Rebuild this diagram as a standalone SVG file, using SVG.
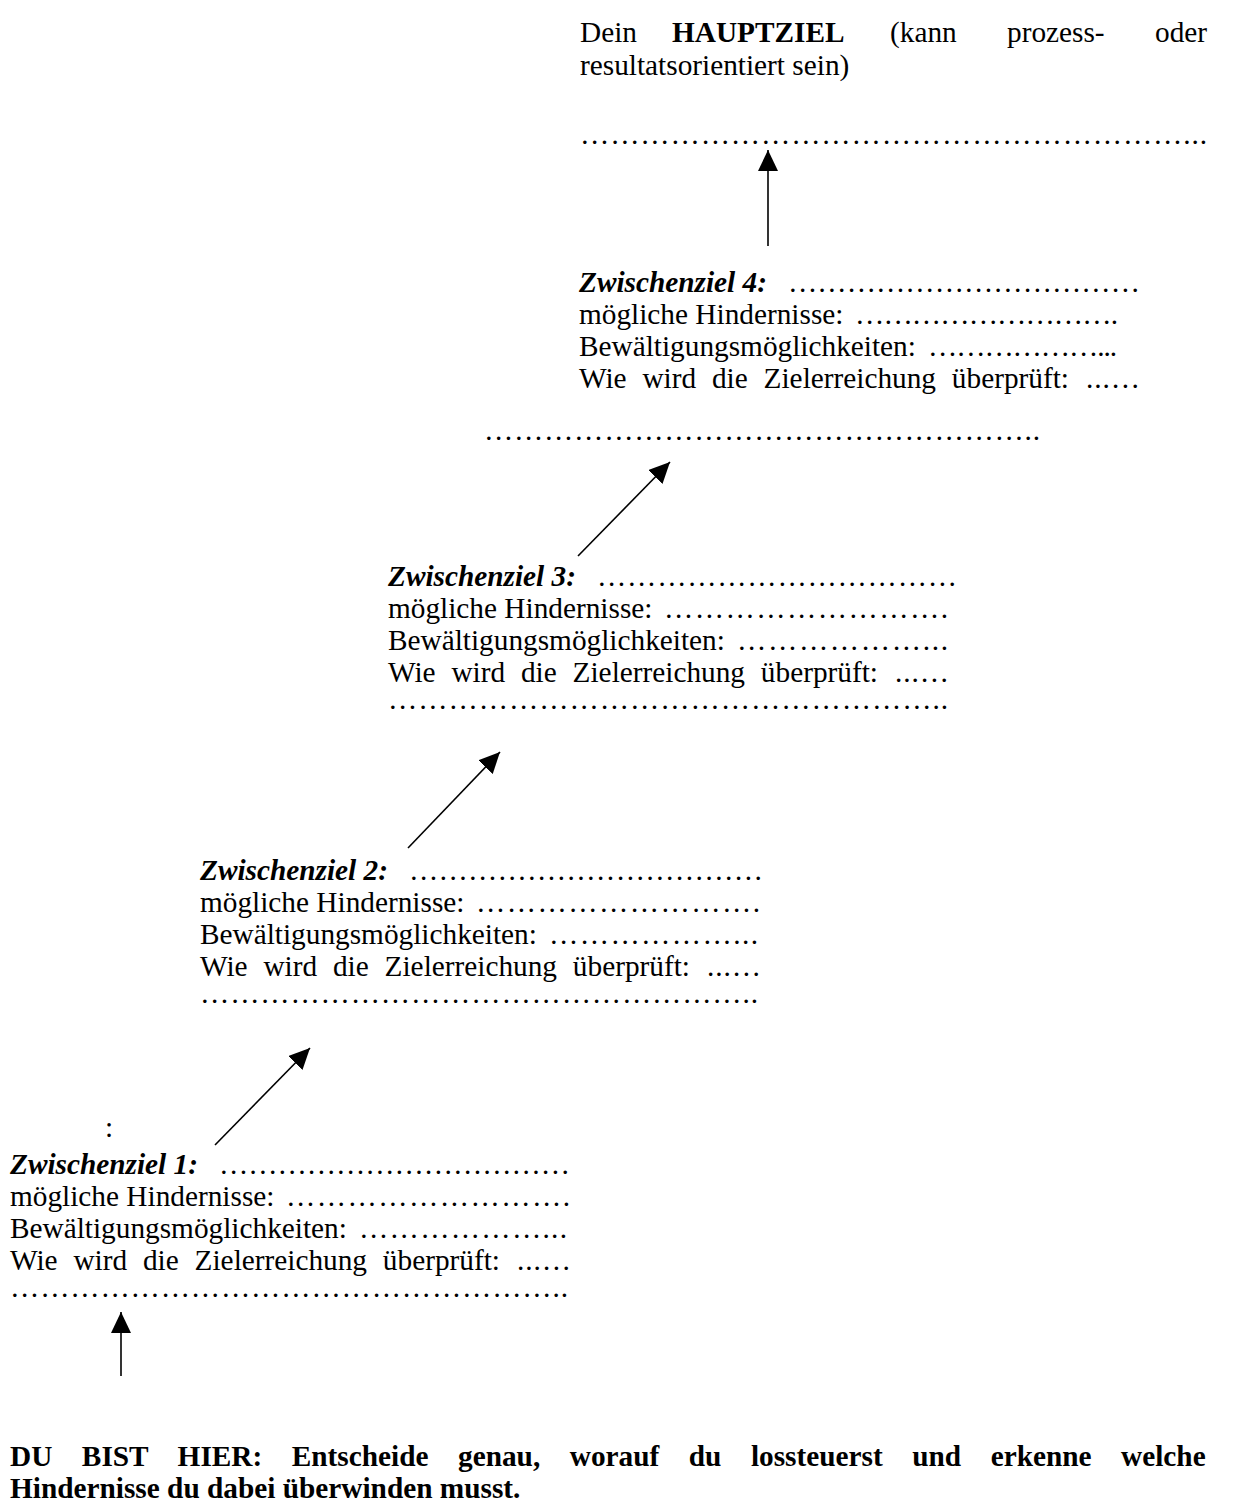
<svg xmlns="http://www.w3.org/2000/svg" width="1233" height="1510" viewBox="0 0 1233 1510">
<style>
text{font-family:"Liberation Serif","Times New Roman",serif;font-size:29.3px;fill:#000}
.b{font-weight:bold}
.bi{font-weight:bold;font-style:italic}
.w{word-spacing:8.5px}
.ar{stroke:#000;stroke-width:1.6;fill:none;marker-end:url(#ah)}
</style>
<defs>
<marker id="ah" viewBox="0 0 21 20" refX="21" refY="10" markerWidth="21" markerHeight="20" markerUnits="userSpaceOnUse" orient="auto">
<path d="M0,0 L21,10 L0,20 Z" fill="#000"/>
</marker>
</defs>
<rect width="1233" height="1510" fill="#fff"/>

<g id="hauptziel">
<text y="42"><tspan x="580">Dein</tspan><tspan x="672" class="b">HAUPTZIEL</tspan><tspan x="890">(kann</tspan><tspan x="1007">prozess-</tspan><tspan x="1155">oder</tspan></text>
<text x="580" y="75">resultatsorientiert sein)</text>
<text x="580" y="144" textLength="627" lengthAdjust="spacing"><tspan>………</tspan><tspan>………</tspan><tspan>………</tspan><tspan>………</tspan><tspan>………</tspan><tspan>………</tspan><tspan>……</tspan><tspan>...</tspan></text>
</g>

<g id="zwischenziel4">
<text x="579" y="292" class="bi">Zwischenziel 4:</text>
<text x="788" y="292" textLength="352" lengthAdjust="spacing"><tspan>………</tspan><tspan>………</tspan><tspan>………</tspan><tspan>………</tspan></text>
<text x="579" y="324">mögliche Hindernisse:</text>
<text x="855" y="324" textLength="263" lengthAdjust="spacing"><tspan>………</tspan><tspan>………</tspan><tspan>………</tspan><tspan>.</tspan></text>
<text x="579" y="356">Bewältigungsmöglichkeiten:</text>
<text x="928" y="356" textLength="189" lengthAdjust="spacing"><tspan>………</tspan><tspan>………</tspan><tspan>...</tspan></text>
<text x="579" y="388" class="w">Wie wird die Zielerreichung überprüft:</text>
<text x="1086" y="388" textLength="54" lengthAdjust="spacing">...…</text>
<text x="484" y="440" textLength="556" lengthAdjust="spacing"><tspan>………</tspan><tspan>………</tspan><tspan>………</tspan><tspan>………</tspan><tspan>………</tspan><tspan>………</tspan><tspan>..</tspan></text>
</g>

<g id="zwischenziel3">
<text x="388" y="586" class="bi">Zwischenziel 3:</text>
<text x="597" y="586" textLength="360" lengthAdjust="spacing"><tspan>………</tspan><tspan>………</tspan><tspan>………</tspan><tspan>………</tspan></text>
<text x="388" y="618">mögliche Hindernisse:</text>
<text x="664" y="618" textLength="284" lengthAdjust="spacing"><tspan>………</tspan><tspan>………</tspan><tspan>………</tspan><tspan>.</tspan></text>
<text x="388" y="650">Bewältigungsmöglichkeiten:</text>
<text x="737" y="650" textLength="211" lengthAdjust="spacing"><tspan>………</tspan><tspan>………</tspan><tspan>...</tspan></text>
<text x="388" y="682" class="w">Wie wird die Zielerreichung überprüft:</text>
<text x="895" y="682" textLength="54" lengthAdjust="spacing">...…</text>
<text x="388" y="709" textLength="560" lengthAdjust="spacing"><tspan>………</tspan><tspan>………</tspan><tspan>………</tspan><tspan>………</tspan><tspan>………</tspan><tspan>………</tspan><tspan>..</tspan></text>
</g>

<g id="zwischenziel2">
<text x="200" y="880" class="bi">Zwischenziel 2:</text>
<text x="409" y="880" textLength="354" lengthAdjust="spacing"><tspan>………</tspan><tspan>………</tspan><tspan>………</tspan><tspan>………</tspan></text>
<text x="200" y="912">mögliche Hindernisse:</text>
<text x="476" y="912" textLength="284" lengthAdjust="spacing"><tspan>………</tspan><tspan>………</tspan><tspan>………</tspan><tspan>.</tspan></text>
<text x="200" y="944">Bewältigungsmöglichkeiten:</text>
<text x="549" y="944" textLength="209" lengthAdjust="spacing"><tspan>………</tspan><tspan>………</tspan><tspan>...</tspan></text>
<text x="200" y="976" class="w">Wie wird die Zielerreichung überprüft:</text>
<text x="707" y="976" textLength="54" lengthAdjust="spacing">...…</text>
<text x="200" y="1003" textLength="558" lengthAdjust="spacing"><tspan>………</tspan><tspan>………</tspan><tspan>………</tspan><tspan>………</tspan><tspan>………</tspan><tspan>………</tspan><tspan>..</tspan></text>
</g>

<g id="zwischenziel1">
<text x="105" y="1137">:</text>
<text x="10" y="1174" class="bi">Zwischenziel 1:</text>
<text x="219" y="1174" textLength="351" lengthAdjust="spacing"><tspan>………</tspan><tspan>………</tspan><tspan>………</tspan><tspan>………</tspan></text>
<text x="10" y="1206">mögliche Hindernisse:</text>
<text x="286" y="1206" textLength="284" lengthAdjust="spacing"><tspan>………</tspan><tspan>………</tspan><tspan>………</tspan><tspan>.</tspan></text>
<text x="10" y="1238">Bewältigungsmöglichkeiten:</text>
<text x="359" y="1238" textLength="208" lengthAdjust="spacing"><tspan>………</tspan><tspan>………</tspan><tspan>...</tspan></text>
<text x="10" y="1270" class="w">Wie wird die Zielerreichung überprüft:</text>
<text x="517" y="1270" textLength="54" lengthAdjust="spacing">...…</text>
<text x="10" y="1297" textLength="558" lengthAdjust="spacing"><tspan>………</tspan><tspan>………</tspan><tspan>………</tspan><tspan>………</tspan><tspan>………</tspan><tspan>………</tspan><tspan>..</tspan></text>
</g>

<g id="start">
<text x="10" y="1466" class="b" style="word-spacing:22.2px">DU BIST HIER: Entscheide genau, worauf du lossteuerst und erkenne welche</text>
<text x="10" y="1498" class="b">Hindernisse du dabei überwinden musst.</text>
</g>

<g id="connectors">
<line class="ar" x1="768" y1="246" x2="768" y2="150"/>
<line class="ar" x1="578" y1="556" x2="670" y2="462"/>
<line class="ar" x1="408" y1="848" x2="500" y2="752"/>
<line class="ar" x1="215" y1="1145" x2="310" y2="1048"/>
<line class="ar" x1="121" y1="1376" x2="121" y2="1312"/>
</g>
</svg>
